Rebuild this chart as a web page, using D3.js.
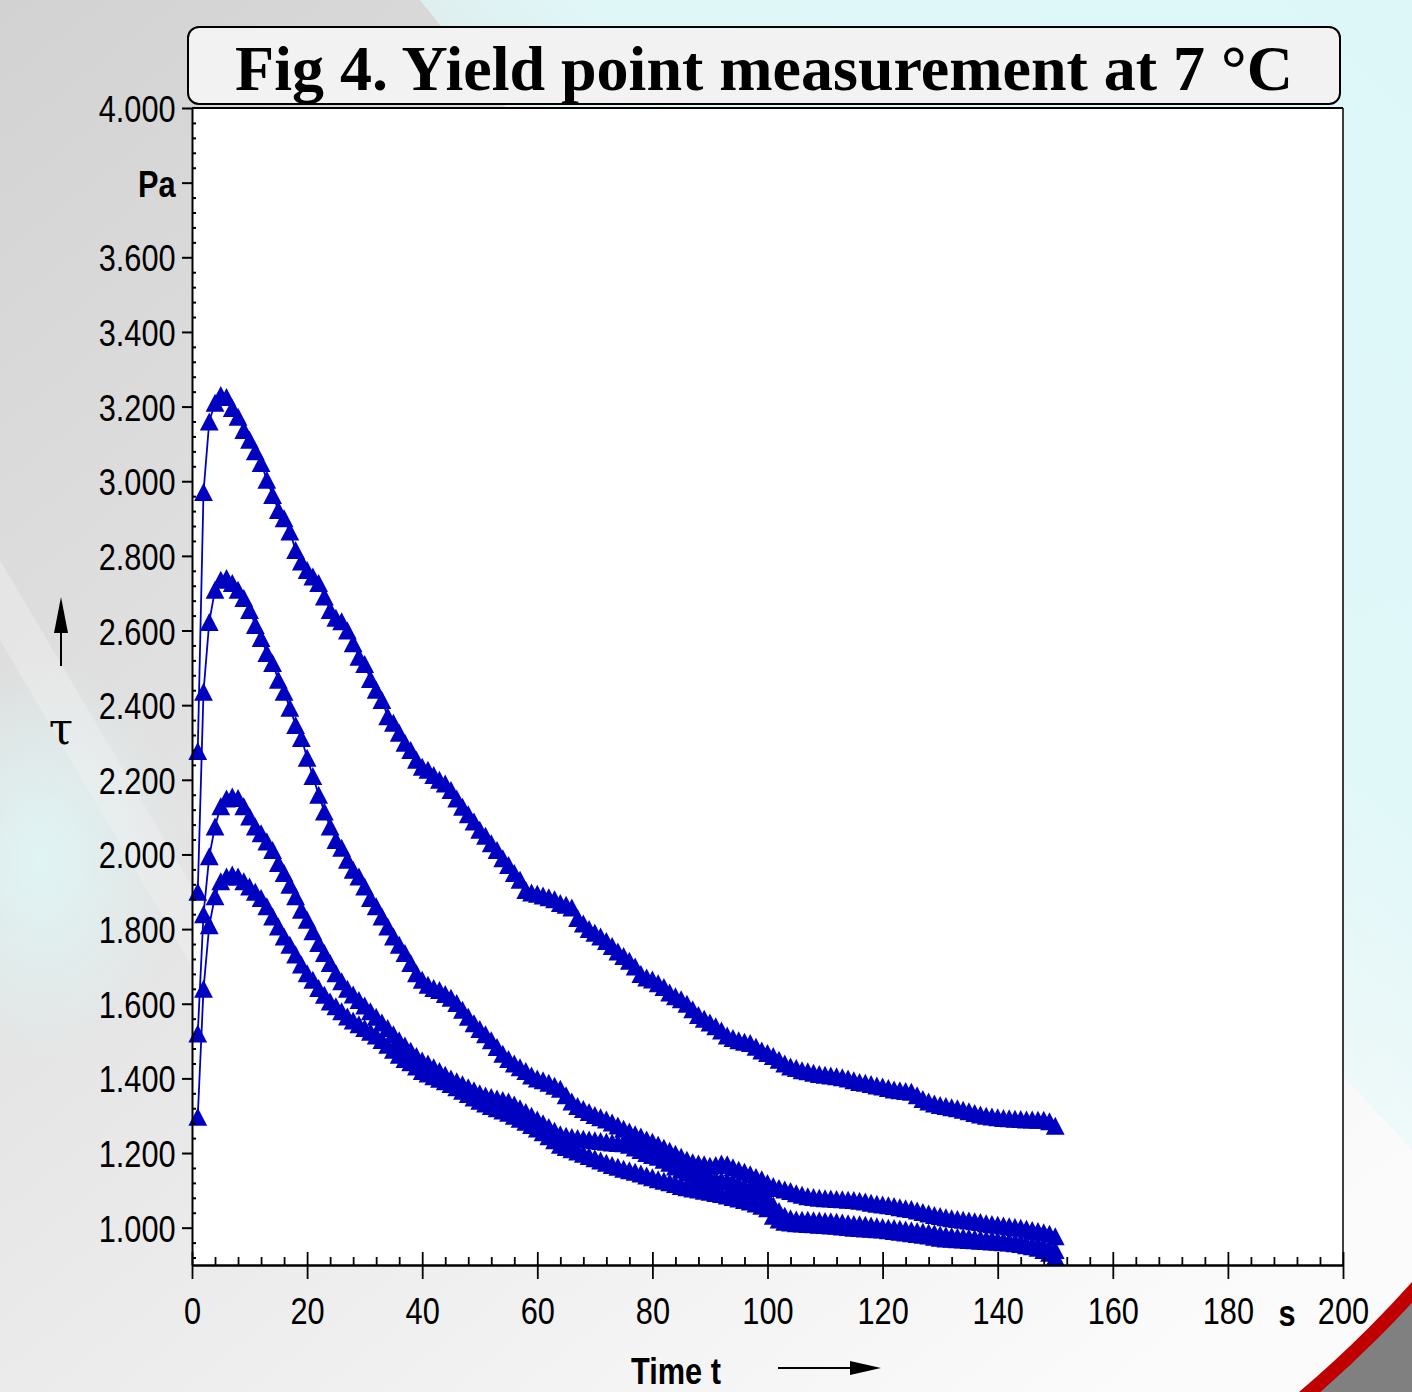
<!DOCTYPE html>
<html><head><meta charset="utf-8">
<script src="https://cdn.jsdelivr.net/npm/d3@7"></script>
<style>body{margin:0;background:#fff;} svg{display:block;}</style>
</head><body>
<svg id="chart" width="1412" height="1392"></svg>
<script>
// ---------------- data ----------------
const title = "Fig 4. Yield point measurement at 7 °C";
const xLabel = "Time t";
const xUnit = "s";
const yLabel = "τ";
const yUnit = "Pa";
const xTicks = [0,20,40,60,80,100,120,140,160,180,200];
const yTicks = [1000,1200,1400,1600,1800,2000,2200,2400,2600,2800,3000,3200,3400,3600,3800,4000];
const timeS = [1,2,3,4,5,6,7,8,9,10,11,12,13,14,15,16,17,18,19,20,21,22,23,24,25,26,27,28,29,30,
  31,32,33,34,35,36,37,38,39,40,41,42,43,44,45,46,47,48,49,50,51,52,53,54,55,56,57,58,59,60,
  61,62,63,64,65,66,67,68,69,70,71,72,73,74,75,76,77,78,79,80,81,82,83,84,85,86,87,88,89,90,
  91,92,93,94,95,96,97,98,99,100,101,102,103,104,105,106,107,108,109,110,111,112,113,114,115,116,117,118,119,120,
  121,122,123,124,125,126,127,128,129,130,131,132,133,134,135,136,137,138,139,140,141,142,143,144,145,146,147,148,149,150];
const seriesA = [2277,2971,3160,3210,3231,3226,3196,3173,3137,3111,
  3080,3049,3004,2963,2923,2901,2865,2816,2785,2762,
  2745,2727,2691,2655,2634,2625,2600,2566,2530,2510,
  2470,2441,2414,2370,2353,2326,2299,2280,2254,2235,
  2227,2213,2200,2190,2173,2150,2128,2108,2088,2066,
  2050,2030,2012,1990,1972,1950,1932,1905,1898,1895,
  1890,1885,1880,1870,1865,1858,1830,1815,1800,1790,
  1780,1768,1755,1740,1728,1715,1700,1680,1670,1665,
  1655,1645,1630,1620,1612,1600,1585,1570,1560,1550,
  1540,1528,1515,1508,1502,1498,1495,1485,1475,1468,
  1460,1450,1440,1432,1428,1422,1419,1415,1412,1410,
  1408,1406,1403,1400,1395,1390,1388,1385,1381,1378,
  1374,1370,1368,1366,1364,1355,1345,1338,1333,1329,
  1326,1323,1320,1316,1312,1307,1303,1300,1298,1296,
  1294,1293,1292,1291,1290,1290,1289,1289,1285,1273];
const seriesB = [1900,2436,2623,2709,2736,2741,2727,2709,2687,2655,
  2615,2580,2540,2513,2468,2436,2393,2347,2312,2259,
  2210,2160,2115,2075,2039,2018,1986,1959,1941,1914,
  1883,1861,1834,1807,1780,1758,1736,1709,1682,1664,
  1651,1642,1637,1626,1616,1602,1584,1565,1548,1532,
  1518,1502,1484,1466,1452,1440,1430,1420,1408,1400,
  1395,1388,1380,1372,1355,1338,1326,1318,1310,1302,
  1296,1290,1282,1274,1265,1258,1250,1244,1236,1230,
  1222,1214,1206,1198,1190,1182,1175,1172,1170,1166,
  1168,1172,1170,1162,1155,1150,1143,1136,1130,1120,
  1112,1106,1102,1098,1092,1088,1084,1082,1080,1079,
  1078,1077,1076,1075,1074,1072,1070,1067,1064,1062,
  1060,1058,1055,1052,1050,1046,1042,1038,1034,1031,
  1028,1025,1023,1021,1019,1017,1015,1012,1010,1008,
  1006,1004,1002,1000,997,994,991,988,984,977];
const seriesC = [1520,1840,1995,2075,2129,2150,2155,2151,2129,2102,
  2075,2057,2035,2012,1977,1950,1919,1888,1852,1825,
  1794,1763,1736,1709,1682,1660,1640,1625,1610,1595,
  1580,1565,1550,1535,1518,1502,1488,1474,1460,1448,
  1440,1430,1420,1410,1400,1392,1384,1376,1368,1360,
  1354,1350,1346,1342,1338,1330,1320,1310,1300,1290,
  1280,1270,1260,1250,1246,1243,1240,1238,1236,1234,
  1232,1230,1228,1227,1226,1222,1215,1208,1200,1195,
  1190,1182,1174,1164,1155,1148,1142,1138,1135,1132,
  1130,1128,1125,1120,1115,1110,1105,1100,1095,1080,
  1060,1045,1032,1025,1022,1021,1021,1020,1019,1018,
  1017,1016,1014,1012,1010,1009,1008,1006,1004,1002,
  1000,999,997,995,993,991,989,987,985,982,
  980,978,976,975,974,972,970,969,968,966,
  965,964,962,960,957,955,952,949,945,940];
const seriesD = [1297,1640,1810,1888,1928,1941,1946,1941,1928,1914,
  1900,1883,1861,1834,1807,1780,1758,1732,1705,1682,
  1664,1642,1624,1606,1593,1580,1566,1555,1545,1535,
  1525,1515,1503,1490,1477,1463,1452,1443,1432,1420,
  1413,1406,1399,1392,1385,1376,1367,1358,1349,1340,
  1333,1326,1320,1314,1308,1300,1292,1284,1275,1266,
  1256,1245,1234,1222,1216,1210,1204,1198,1192,1186,
  1180,1174,1168,1163,1158,1154,1150,1145,1140,1135,
  1130,1126,1122,1117,1112,1108,1105,1102,1099,1096,
  1093,1090,1086,1082,1078,1074,1070,1065,1059,1052,
  1032,1022,1016,1014,1012,1011,1010,1009,1008,1007,
  1006,1005,1003,1002,1000,999,998,997,996,995,
  993,991,989,987,985,983,981,979,976,973,
  971,970,969,968,967,966,965,964,963,962,
  961,960,958,956,953,950,946,940,933,922];
const seriesList = [seriesA, seriesB, seriesC, seriesD];

// ---------------- chart ----------------
const W = 1412, H = 1392;
const svg = d3.select("#chart");
const plot = {left:192, right:1343, top:108, bottom:1265};
const x = d3.scaleLinear().domain([0,200]).range([plot.left, plot.right]);
const y = d3.scaleLinear().domain([900,4000]).range([plot.bottom, plot.top]);
const deLocale = d3.formatLocale({decimal:",", thousands:".", grouping:[3], currency:["",""]});
const fmt = deLocale.format(",");

// font detection for condensed sans
function measure(font){
  const t = svg.append("text").attr("font-family", font).attr("font-size", 100).text("4.000 0123 Time");
  const w = t.node().getComputedTextLength(); t.remove(); return w;
}
const wN = measure("'Liberation Sans Narrow'");
const wR = measure("'Liberation Sans'");
const narrowOK = wN < wR * 0.9;
const condFamily = narrowOK ? "'Liberation Sans Narrow', 'Arial Narrow', sans-serif" : "'Liberation Sans', Arial, sans-serif";
const condScale = narrowOK ? 1 : 0.82;

// background
const defs = svg.append("defs");
const bg = defs.append("linearGradient").attr("id","bg").attr("x1",0).attr("y1",0).attr("x2",0.8).attr("y2",1);
bg.append("stop").attr("offset",0).attr("stop-color","#d2d2d2");
bg.append("stop").attr("offset",0.45).attr("stop-color","#e4e4e4");
bg.append("stop").attr("offset",0.8).attr("stop-color","#f3f3f3");
bg.append("stop").attr("offset",1).attr("stop-color","#fbfbfb");
const cy = defs.append("linearGradient").attr("id","cy").attr("x1",1).attr("y1",0).attr("x2",0.35).attr("y2",0.75);
cy.append("stop").attr("offset",0).attr("stop-color","#ddf7f8").attr("stop-opacity",1);
cy.append("stop").attr("offset",0.55).attr("stop-color","#e0f8f9").attr("stop-opacity",0.95);
cy.append("stop").attr("offset",1).attr("stop-color","#e8f8f8").attr("stop-opacity",0);
const cyl = defs.append("radialGradient").attr("id","cyl").attr("cx",0.5).attr("cy",0.5).attr("r",0.5);
cyl.append("stop").attr("offset",0).attr("stop-color","#e0f7f7").attr("stop-opacity",0.9);
cyl.append("stop").attr("offset",1).attr("stop-color","#e0f7f7").attr("stop-opacity",0);

svg.append("rect").attr("width",W).attr("height",H).attr("fill","url(#bg)");
svg.append("polygon").attr("points","420,0 1412,0 1412,1150 900,600").attr("fill","url(#cy)");
svg.append("ellipse").attr("cx",40).attr("cy",860).attr("rx",140).attr("ry",200).attr("fill","url(#cyl)");
svg.append("polygon").attr("points","0,560 0,640 200,980 200,900").attr("fill","#f2f2f2").attr("opacity",0.4);

// bottom-right decoration
const cx0 = 560, cy0 = 520, R = 1150;
svg.append("circle").attr("cx",cx0).attr("cy",cy0).attr("r",R+200).attr("fill","none")
  .attr("stroke","#808080").attr("stroke-width",400);
svg.append("circle").attr("cx",cx0).attr("cy",cy0).attr("r",R).attr("fill","none")
  .attr("stroke","#c00000").attr("stroke-width",14);

// plot area
svg.append("rect").attr("x",plot.left).attr("y",plot.top)
  .attr("width",plot.right-plot.left).attr("height",plot.bottom-plot.top).attr("fill","#fff");

// title box
svg.append("rect").attr("x",188).attr("y",27).attr("width",1152).attr("height",77)
  .attr("rx",11).attr("fill","#f2f2f2").attr("stroke","#000").attr("stroke-width",2);
svg.append("text").attr("x",764).attr("y",90).attr("text-anchor","middle")
  .attr("font-family","'Liberation Serif','Times New Roman',serif").attr("font-weight","bold")
  .attr("font-size",64).attr("fill","#000").text(title);

// frame (right & top)
svg.append("line").attr("x1",x(200)).attr("x2",x(200)).attr("y1",y(4000)).attr("y2",plot.bottom)
  .attr("stroke","#000").attr("stroke-width",1.5);
svg.append("line").attr("x1",plot.left).attr("x2",x(200)).attr("y1",y(4000)).attr("y2",y(4000))
  .attr("stroke","#000").attr("stroke-width",2);

// data
const color = "#0000c0";
const tri = { draw(ctx, size){ const w = 9.4, h = 9; ctx.moveTo(0,-h); ctx.lineTo(w,h); ctx.lineTo(-w,h); ctx.closePath(); } };
const sym = d3.symbol().type(tri).size(160);
const line = d3.line().x((d,i)=>x(timeS[i])).y(d=>y(d));
seriesList.forEach(s => {
  const g = svg.append("g");
  g.append("path").attr("d", line(s)).attr("fill","none").attr("stroke",color).attr("stroke-width",1.8);
  g.selectAll("path.m").data(s).join("path").attr("class","m")
    .attr("transform",(d,i)=>`translate(${x(timeS[i])},${y(d)})`)
    .attr("d", sym()).attr("fill",color);
});

// axes
const minorY = d3.range(920, 4000, 40).filter(v => v % 200 !== 0);
const minorX = d3.range(0, 200, 4).filter(v => v % 20 !== 0);

function styleText(sel){
  sel.attr("font-family", condFamily).attr("font-size",37.5).attr("fill","#000");
  if (condScale !== 1) sel.attr("transform", `scale(${condScale},1)`);
}

const yAxis = svg.append("g").attr("transform",`translate(${plot.left},0)`)
  .call(d3.axisLeft(y).tickValues(yTicks).tickSize(10).tickSizeOuter(0).tickPadding(10)
    .tickFormat(d => d === 3800 ? yUnit : fmt(d)));
yAxis.select(".domain").attr("stroke","#000").attr("stroke-width",2);
yAxis.selectAll(".tick line").attr("stroke","#000").attr("stroke-width",2);
yAxis.selectAll(".tick text").call(styleText).attr("dy","0.36em");
yAxis.selectAll(".tick text").filter(d => d === 3800).attr("font-weight","bold");

const yMinor = svg.append("g").attr("transform",`translate(${plot.left},0)`)
  .call(d3.axisRight(y).tickValues(minorY).tickSize(4).tickSizeOuter(0).tickFormat(""));
yMinor.select(".domain").remove();
yMinor.selectAll(".tick line").attr("stroke","#000").attr("stroke-width",2);

const xAxis = svg.append("g").attr("transform",`translate(0,${plot.bottom})`)
  .call(d3.axisBottom(x).tickValues(xTicks).tickSize(14).tickSizeOuter(0).tickPadding(18).tickFormat(d3.format("d")));
xAxis.select(".domain").attr("stroke","#000").attr("stroke-width",2.5);
xAxis.selectAll(".tick line").attr("stroke","#000").attr("stroke-width",1.8);
xAxis.selectAll(".tick text").call(styleText);

const xUp = svg.append("g").attr("transform",`translate(0,${plot.bottom})`)
  .call(d3.axisTop(x).tickValues(xTicks).tickSize(13).tickSizeOuter(0).tickFormat(""));
xUp.select(".domain").remove();
xUp.selectAll(".tick line").attr("stroke","#000").attr("stroke-width",1.8);

const xMinor = svg.append("g").attr("transform",`translate(0,${plot.bottom})`)
  .call(d3.axisTop(x).tickValues(minorX).tickSize(8).tickSizeOuter(0).tickFormat(""));
xMinor.select(".domain").remove();
xMinor.selectAll(".tick line").attr("stroke","#000").attr("stroke-width",1.8);

// unit "s"
const sT = svg.append("text").attr("x", x(190.3)).attr("y", 1326).attr("text-anchor","middle")
  .attr("font-weight","bold").text(xUnit).call(styleText);
if (condScale !== 1) sT.attr("x", x(190.3)/condScale);

// x label + arrow
const xl = svg.append("text").attr("x", 676).attr("y", 1384).attr("text-anchor","middle")
  .attr("font-weight","bold").text(xLabel).call(styleText);
if (condScale !== 1) xl.attr("x", 676/condScale);
svg.append("line").attr("x1",778).attr("x2",856).attr("y1",1368).attr("y2",1368).attr("stroke","#000").attr("stroke-width",2);
svg.append("path").attr("d","M850,1361 L881,1368 L850,1375 Z").attr("fill","#000");

// y label + arrow
svg.append("text").attr("x",61).attr("y",744).attr("text-anchor","middle")
  .attr("font-family","'DejaVu Serif','Liberation Serif',serif").attr("font-size",44).attr("fill","#000").text(yLabel);
svg.append("line").attr("x1",61).attr("x2",61).attr("y1",666).attr("y2",625).attr("stroke","#000").attr("stroke-width",2);
svg.append("path").attr("d","M54,633 L61,597 L68,633 Z").attr("fill","#000");
</script>
</body></html>
